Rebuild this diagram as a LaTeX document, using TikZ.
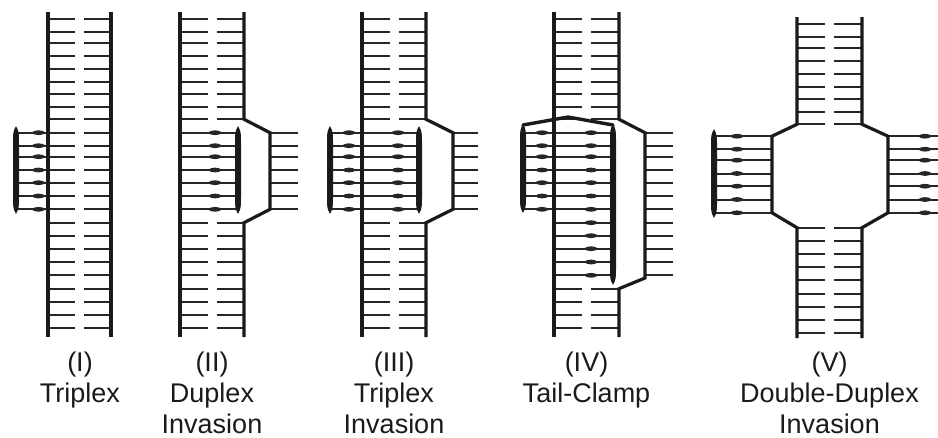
\documentclass[tikz,border=0pt]{standalone}
\usepackage{fontspec}
\setmainfont{Liberation Sans}
\definecolor{ink}{HTML}{1A1A1A}
\definecolor{rungink}{HTML}{262626}
\tikzset{
  strand/.style={draw=ink, line width=3.2pt, line join=miter},
  rung/.style={draw=rungink, line width=2pt},
  clamp/.style={draw=ink, line width=3.4pt, line join=round, line cap=round},
  caption/.style={anchor=base, inner sep=0pt, font=\fontsize{27}{31}\selectfont, text=ink},
}
% rung rows of a straight duplex (top to bottom)
\def\rowsA{19,31.7,42.7,56,69.3,82,94,106.7,119.3}
\def\rowsB{132.7,145.7,156.7,170,182.7,196,209.3}
\def\rowsC{222.7,235.7,248.7,262,275.3}
\def\rowsD{288.7,301.7,315,328.3}
\def\rowsBC{132.7,145.7,156.7,170,182.7,196,209.3,222.7,235.7,248.7,262,275.3}
% both half-rungs between two strands: left x, right x, rows, vertical offset
\newcommand\pairrungs[4]{%
  \foreach \yy in #3 {
    \draw[rung] (#1,\yy+#4) -- ({(#1+#2)/2-4.5},\yy+#4);
    \draw[rung] ({(#1+#2)/2+4.5},\yy+#4) -- (#2,\yy+#4);
  }}
% lens-shaped thickening on a rung: centre x, y
\newcommand\blob[2]{%
  \fill[rungink] (#1-7.5,#2) .. controls (#1-3,#2-3.2) and (#1+3,#2-3.2) .. (#1+7.5,#2)
    .. controls (#1+3,#2+3.2) and (#1-3,#2+3.2) .. cycle;}
% tapered backbone of an invading strand: x, top, bottom
\newcommand\spindle[3]{%
  \fill[ink] (#1,#2) .. controls (#1+3,#2+6) .. (#1+3,#2+18) -- (#1+3,#3-18)
    .. controls (#1+3,#3-6) .. (#1,#3) .. controls (#1-3,#3-6) .. (#1-3,#3-18)
    -- (#1-3,#2+18) .. controls (#1-3,#2+6) .. cycle;}

\begin{document}
\begin{tikzpicture}[x=1pt, y=-1pt]
\useasboundingbox (0,0) rectangle (938,437);

% ---------- (I) Triplex ----------
\pairrungs{48}{111}{\rowsA}{0}
\pairrungs{48}{111}{\rowsB}{0}
\pairrungs{48}{111}{\rowsC}{0}
\pairrungs{48}{111}{\rowsD}{0}
\foreach \y in \rowsB { \draw[rung] (16,\y) -- (48,\y); \blob{38.5}{\y} }
\spindle{16}{126}{214}
\draw[strand] (48,12) -- (48,337);
\draw[strand] (111,12) -- (111,337);

% ---------- (II) Duplex Invasion ----------
\pairrungs{180}{244}{\rowsA}{0}
\pairrungs{180}{244}{\rowsC}{0}
\pairrungs{180}{244}{\rowsD}{0}
\foreach \y in \rowsB {
  \draw[rung] (180,\y) -- (238,\y); \blob{215}{\y}
  \draw[rung] (270,\y) -- (298,\y);
}
\spindle{238}{126}{214}
\draw[strand] (180,12) -- (180,337);
\draw[strand] (244,12) -- (244,119.3) -- (270,132.7) -- (270,209.3) -- (244,222.7) -- (244,337);

% ---------- (III) Triplex Invasion ----------
\pairrungs{362}{426}{\rowsA}{0}
\pairrungs{362}{426}{\rowsC}{0}
\pairrungs{362}{426}{\rowsD}{0}
\foreach \y in \rowsB {
  \draw[rung] (330,\y) -- (419,\y); \blob{349}{\y} \blob{398}{\y}
  \draw[rung] (453,\y) -- (478,\y);
}
\spindle{330}{126}{214}
\spindle{419}{126}{214}
\draw[strand] (362,12) -- (362,337);
\draw[strand] (426,12) -- (426,119.3) -- (453,132.7) -- (453,209.3) -- (426,222.7) -- (426,337);

% ---------- (IV) Tail-Clamp ----------
\pairrungs{554}{619}{\rowsA}{0}
\pairrungs{554}{619}{\rowsD}{0}
\foreach \y in \rowsB { \draw[rung] (523,\y) -- (554,\y); \blob{542}{\y} }
\foreach \y in \rowsBC {
  \draw[rung] (554,\y) -- (613,\y); \blob{591}{\y}
  \draw[rung] (645,\y) -- (673,\y);
}
\spindle{523}{124}{213}
\spindle{613}{124}{285}
\draw[strand] (554,12) -- (554,337);
\draw[strand] (619,12) -- (619,119.3) -- (645,132.7) -- (645,278) -- (619,288.7) -- (619,337);
\draw[clamp] (523,125) -- (568,117) -- (613,125);

% ---------- (V) Double-Duplex Invasion ----------
\pairrungs{797}{862}{\rowsA}{5}
\pairrungs{797}{862}{\rowsC}{5}
\pairrungs{797}{862}{\rowsD}{5}
\foreach \y in \rowsB {
  \draw[rung] (714,\y+3.5) -- (772,\y+3.5); \blob{737}{\y+3.5}
  \draw[rung] (888,\y+3.5) -- (938,\y+3.5); \blob{925}{\y+3.5}
}
\spindle{714}{129}{218}
\draw[strand] (797,17) -- (797,124.3) -- (772,136.2) -- (772,212.8) -- (797,227.7) -- (797,338);
\draw[strand] (862,17) -- (862,124.3) -- (888,136.2) -- (888,212.8) -- (862,227.7) -- (862,338);

% ---------- captions ----------
\node[caption] (c1a) at (80,371) {(I)};
\node[caption] (c1b) at (80,402) {Triplex};
\node[caption] (c2a) at (212,371) {(II)};
\node[caption] (c2b) at (212,402) {Duplex};
\node[caption] (c2c) at (212,433) {Invasion};
\node[caption] (c3a) at (394,371) {(III)};
\node[caption] (c3b) at (394,402) {Triplex};
\node[caption] (c3c) at (394,433) {Invasion};
\node[caption] (c4a) at (586.5,371) {(IV)};
\node[caption] (c4b) at (586.5,402) {Tail-Clamp};
\node[caption] (c5a) at (829.5,371) {(V)};
\node[caption] (c5b) at (829.5,402) {Double-Duplex};
\node[caption] (c5c) at (829.5,433) {Invasion};
\end{tikzpicture}
\end{document}
